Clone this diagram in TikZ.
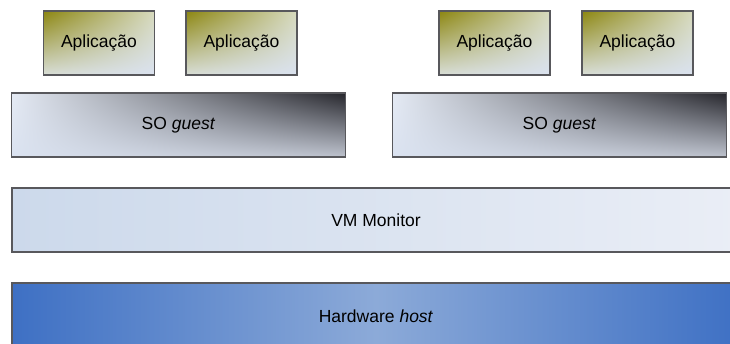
\documentclass[tikz,border=0pt]{standalone}
\usepackage{fontspec}
\setmainfont{Liberation Sans}
\usetikzlibrary{shadings}
\definecolor{oliva}{RGB}{140,134,16}
\definecolor{olivaclaro}{RGB}{215,218,190}
\definecolor{azulgelo}{RGB}{218,226,240}
\definecolor{cinzaescuro}{RGB}{38,38,44}
\definecolor{cinzamedio}{RGB}{190,195,206}
\definecolor{vmesq}{RGB}{204,217,235}
\definecolor{vmdir}{RGB}{234,238,246}
\definecolor{hwesc}{RGB}{62,112,196}
\definecolor{hwclaro}{RGB}{140,170,216}
\definecolor{borda}{RGB}{88,88,92}
\tikzset{
	camada/.style={draw=borda, line width=1.3pt, minimum height=64pt, inner sep=0pt, font=\fontsize{17.5}{20}\selectfont},
	app/.style={camada, minimum width=111pt, upper left=oliva, upper right=olivaclaro, lower left=olivaclaro!50!azulgelo, lower right=azulgelo},
	so/.style={camada, minimum width=334pt, upper left=azulgelo!70!white, upper right=cinzaescuro, lower left=azulgelo, lower right=cinzamedio}
}
\begin{document}
\begin{tikzpicture}[x=1pt,y=-1pt]
		\useasboundingbox (0,0) rectangle (730,343);
		\clip (0,0) rectangle (730,343);

		\foreach \n/\x in {a/99,b/241.5,c/494.5,d/637.5}
		\node[app] (app\n) at (\x,43) {Aplicação};

		\node[so] (so1) at (178.5,125) {SO \textit{guest}};
		\node[so] (so2) at (559.5,125) {SO \textit{guest}};

		\node[camada, minimum width=728pt, left color=vmesq, right color=vmdir] (vm) at (376,220) {VM Monitor};
		\node[camada, minimum width=728pt, minimum height=67pt, left color=hwesc, right color=hwesc, middle color=hwclaro] (hw) at (376,316.5) {Hardware \textit{host}};
	\end{tikzpicture}
\end{document}
